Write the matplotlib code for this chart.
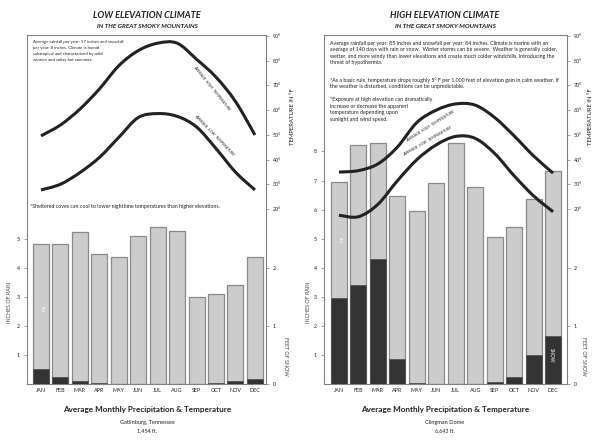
import matplotlib
matplotlib.use("Agg")
import matplotlib.pyplot as plt
from matplotlib.path import Path
from matplotlib.patches import PathPatch

plt.rcParams['font.family'] = ['Lato', 'DejaVu Sans']

W, H = 600, 448

months = ['JAN', 'FEB', 'MAR', 'APR', 'MAY', 'JUN', 'JUL', 'AUG', 'SEP', 'OCT', 'NOV', 'DEC']

# low elevation (Gatlinburg)
low_rain = [4.82, 4.82, 5.22, 4.47, 4.37, 5.10, 5.41, 5.25, 2.99, 3.10, 3.40, 4.37]
low_snow = [0.26, 0.12, 0.06, 0.02, 0, 0, 0, 0, 0, 0.02, 0.06, 0.09]
low_high = [49.6, 54, 60.4, 68.5, 77.9, 84, 87, 87, 80.5, 73.3, 63.5, 50]
low_low = [27.8, 30.1, 34.8, 40.9, 49, 57, 58.6, 57.5, 53.2, 44.5, 35, 27.8]

# high elevation (Clingman Dome)
high_rain = [6.96, 8.22, 8.28, 6.47, 5.95, 6.92, 8.28, 6.77, 5.05, 5.39, 6.36, 7.33]
high_snow = [1.49, 1.70, 2.15, 0.43, 0.03, 0, 0, 0, 0.04, 0.12, 0.51, 0.83]
high_high = [35, 35.6, 38.3, 45.1, 55, 60, 62.5, 62, 57, 49.6, 41.5, 34.6]
high_low = [17.6, 17, 22, 31.5, 40, 46, 49.4, 48.6, 42.5, 33.5, 25.4, 19]

temp_ticks = [20, 30, 40, 50, 60, 70, 80, 90]
snow_ticks = [0, 1, 2]

TXT = '#222222'
GRID = '#808080'


def fx(x):
    return x / W


def fy(y):
    return 1 - y / H


def smooth_path(xs, ys):
    # catmull-rom through the monthly points, drawn as bezier segments
    pts = list(zip(xs, ys))
    verts = [pts[0]]
    codes = [Path.MOVETO]
    n = len(pts)
    for i in range(n - 1):
        p0 = pts[max(i - 1, 0)]
        p1 = pts[i]
        p2 = pts[i + 1]
        p3 = pts[min(i + 2, n - 1)]
        c1 = (p1[0] + (p2[0] - p0[0]) / 6, p1[1] + (p2[1] - p0[1]) / 6)
        c2 = (p2[0] - (p3[0] - p1[0]) / 6, p2[1] - (p3[1] - p1[1]) / 6)
        verts += [c1, c2, p2]
        codes += [Path.CURVE4] * 3
    return Path(verts, codes)


def draw_panel(fig, left, right, xlim, rain, snow, hi, lo, rain_ticks):
    ax = fig.add_axes([fx(left), fy(384.3), fx(right) - fx(left), fy(35) - fy(384.3)])
    xs = list(range(len(months)))
    ax.bar(xs, rain, width=0.82, color='#cccccc', edgecolor='#8a8a8a', linewidth=0.9)
    ax.set_xlim(*xlim)
    ax.set_ylim(0, 12.0)
    ax.set_yticks(rain_ticks)
    ax.set_xticks(xs)
    ax.set_xticklabels(months)
    ax.tick_params(axis='x', length=0, pad=3, labelsize=3.9, labelcolor=TXT)
    ax.tick_params(axis='y', length=2, width=0.5, color=GRID, pad=3,
                   labelsize=3.8, labelcolor=TXT)
    for s in ax.spines.values():
        s.set_color(GRID)
        s.set_linewidth(0.8)

    ax_s = ax.twinx()
    ax_s.bar(xs, snow, width=0.82, color='#333333', edgecolor='#555555', linewidth=0.6)
    ax_s.set_ylim(0, 6.0)
    ax_s.set_yticks(snow_ticks)
    ax_s.tick_params(axis='y', length=2, width=0.5, color=GRID, pad=3,
                     labelsize=3.8, labelcolor=TXT)
    for s in ax_s.spines.values():
        s.set_visible(False)

    ax_t = ax.twinx()
    ax_t.set_ylim(-50.6, 90.3)
    ax_t.set_xlim(*xlim)
    ax_t.set_yticks(temp_ticks)
    ax_t.set_yticklabels([f'{t}°' for t in temp_ticks])
    ax_t.tick_params(axis='y', length=2, width=0.5, color=GRID, pad=3,
                     labelsize=3.8, labelcolor=TXT)
    for s in ax_t.spines.values():
        s.set_visible(False)
    for temps in (hi, lo):
        ax_t.add_patch(PathPatch(smooth_path(xs, temps), facecolor='none',
                                 edgecolor='#222222', linewidth=2.2,
                                 capstyle='butt'))
    return ax


fig = plt.figure(figsize=(W / 100, H / 100), dpi=100)

draw_panel(fig, 26.7, 266, (-0.735, 11.57), low_rain, low_snow, low_high, low_low,
           [1, 2, 3, 4, 5])
draw_panel(fig, 324, 566.7, (-0.77, 11.70), high_rain, high_snow, high_high, high_low,
           [1, 2, 3, 4, 5, 6, 7, 8])

# titles
for cx, title in ((147, 'LOW ELEVATION CLIMATE'), (445, 'HIGH ELEVATION CLIMATE')):
    fig.text(fx(cx), fy(15.5), title, ha='center', va='center', fontsize=6.6,
             fontweight='bold', style='italic', color=TXT)
    fig.text(fx(cx), fy(26), 'IN THE GREAT SMOKY MOUNTAINS', ha='center', va='center',
             fontsize=4.6, fontweight='bold', style='italic', color=TXT)
    fig.text(fx(cx), fy(409), 'Average Monthly Precipitation & Temperature', ha='center',
             va='center', fontsize=5.9, fontweight='bold', color=TXT)

fig.text(fx(147), fy(422.3), 'Gatlinburg, Tennessee', ha='center', va='center',
         fontsize=4.1, color=TXT)
fig.text(fx(147), fy(431), '1,454 ft.', ha='center', va='center', fontsize=3.8, color=TXT)
fig.text(fx(445), fy(422.3), 'Clingman Dome', ha='center', va='center',
         fontsize=4.1, color=TXT)
fig.text(fx(445), fy(431), '6,643 ft.', ha='center', va='center', fontsize=3.8, color=TXT)

# axis titles
for off in (0, 299):
    fig.text(fx(10 + off), fy(302), 'INCHES OF RAIN', rotation=90, ha='center', va='center',
             fontsize=3.8, color='#444444')
    fig.text(fx(285 + off), fy(356), 'FEET OF SNOW', rotation=270, ha='center', va='center',
             fontsize=3.8, color='#444444')
    fig.text(fx(292 + off), fy(117), 'TEMPERATURE IN °F', rotation=90, ha='center',
             va='center', fontsize=4.3, color=TXT)

# notes, low panel
fig.text(fx(33), fy(40), 'Average rainfall per year: 57 inches and snowfall\n'
         'per year: 8 inches. Climate is humid\n'
         'subtropical and characterized by mild\n'
         'winters and sultry hot summers.', ha='left', va='top', fontsize=3.1,
         linespacing=1.7, color=TXT)
fig.text(fx(30), fy(206.7), '*Sheltered coves can cool to lower nighttime temperatures '
         'than higher elevations.', ha='left', va='center', fontsize=3.75, color=TXT)

# notes, high panel
NOTE = 3.75
fig.text(fx(330), fy(40.5), 'Average rainfall per year: 85 inches and snowfall per year: 84 '
         'inches. Climate is marine with an\n'
         'average of 140 days with rain or snow.  Winter storms can be severe.  '
         'Weather is generally colder,\n'
         'wetter, and more windy than lower elevations and create much colder windchills, '
         'introducing the\n'
         'threat of hypothermia.', ha='left', va='top', fontsize=NOTE, linespacing=1.4,
         color=TXT)
fig.text(fx(330), fy(77), '*As a basic rule, temperature drops roughly 5° F per 1,000 feet of '
         'elevation gain in calm weather. If\n'
         'the weather is disturbed, conditions can be unpredictable.', ha='left', va='top',
         fontsize=NOTE, linespacing=1.4, color=TXT)
fig.text(fx(330), fy(97), '*Exposure at high elevation can dramatically\n'
         'increase or decrease the apparent\n'
         'temperature depending upon\n'
         'sunlight and wind speed.', ha='left', va='top', fontsize=NOTE, linespacing=1.4,
         color=TXT)

# curve labels
curve_labels = [
    (212, 88, -51, 'AVERAGE  HIGH  TEMPERATURE'),
    (214, 135, -46, 'AVERAGE  LOW  TEMPERATURE'),
    (430, 126, 32, 'AVERAGE  HIGH  TEMPERATURE'),
    (428, 141, 30, 'AVERAGE  LOW  TEMPERATURE'),
]
for x, y, rot, s in curve_labels:
    fig.text(fx(x), fy(y), s, rotation=rot, ha='center', va='center',
             rotation_mode='anchor', fontsize=2.9, style='italic', color=TXT)

# labels inside bars
fig.text(fx(551.7), fy(355), 'SNOW', rotation=270, ha='center', va='center',
         fontsize=3.3, color='white')
fig.text(fx(41.5), fy(309), 'RAIN', rotation=270, ha='center', va='center',
         fontsize=1.8, color='white')
fig.text(fx(340), fy(240), 'RAIN', rotation=270, ha='center', va='center',
         fontsize=1.8, color='white')

fig.savefig('out.png', dpi=100)
